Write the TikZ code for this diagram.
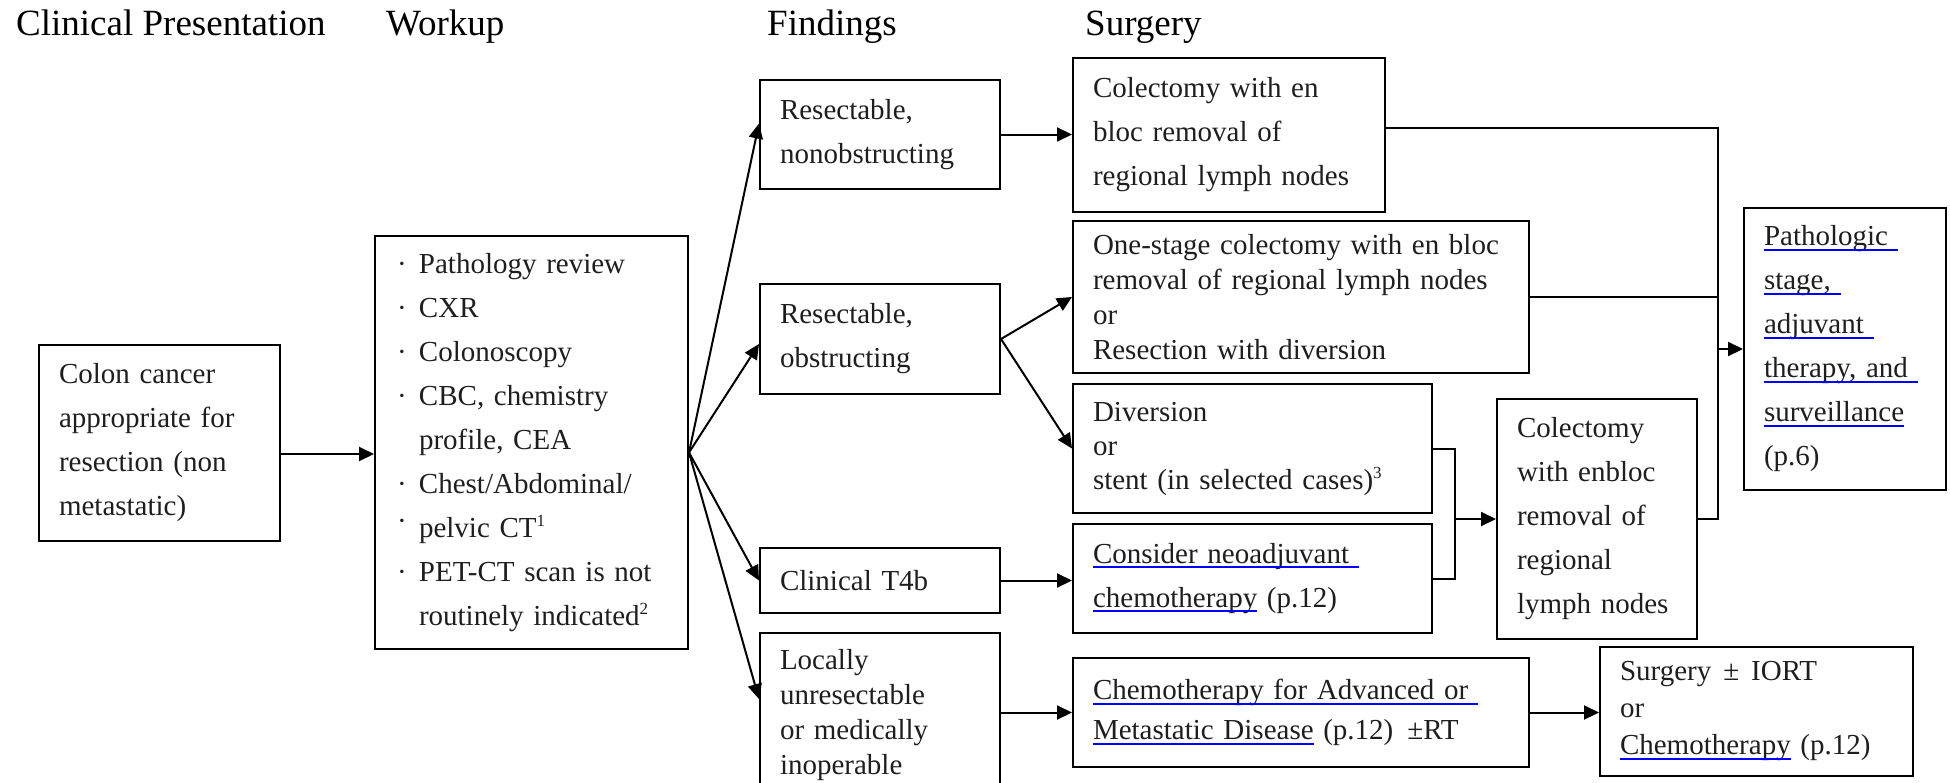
\documentclass[tikz,border=0pt]{standalone}
\usepackage{fontspec}
\setmainfont{Liberation Serif}
\usetikzlibrary{arrows.meta}

\definecolor{linkblue}{RGB}{0,0,255}
\definecolor{inkgray}{RGB}{30,30,30}
\newsavebox\lnkbox
\newcommand\lnk[1]{\sbox\lnkbox{#1}\textcolor{linkblue}{\rlap{\usebox\lnkbox}\rule[-5pt]{\wd\lnkbox}{2pt}}}
\newcommand\wdot{\makebox[22pt][l]{·}}
\newcommand\fnote[1]{\raisebox{11pt}{\fontsize{17}{17}\selectfont #1}}

\tikzset{
  box/.style={draw, line width=2pt, anchor=north west, inner xsep=20pt, inner ysep=0pt,
    align=left, text=inkgray, font=\fontsize{29}{44}\selectfont},
  head/.style={anchor=base west, inner sep=0pt, font=\fontsize{37}{44}\selectfont},
  line/.style={line width=2pt},
  arr/.style={line width=2pt, -{Triangle[length=15pt,width=14pt]}}
}

\begin{document}
\begin{tikzpicture}[x=1pt,y=-1pt]
\useasboundingbox (0,0) rectangle (1950,782);

\node[head] (hclin) at (16,35) {Clinical Presentation};
\node[head] (hwork) at (386,35) {Workup};
\node[head] (hfind) at (767,35) {Findings};
\node[head] (hsurg) at (1085,35) {Surgery};

\node[box, minimum width=241pt, text width=201pt, minimum height=196pt] (colon) at (38,344)
  {Colon cancer\\appropriate for\\resection (non\\metastatic)};

\node[box, inner xsep=22pt, minimum width=313pt, text width=269pt, minimum height=413pt] (workup) at (374,235)
  {\wdot Pathology review\\
   \wdot CXR\\
   \wdot Colonoscopy\\
   \wdot CBC, chemistry\\
   \hspace*{22pt}profile, CEA\\
   \wdot Chest/Abdominal/\\
   \makebox[22pt][l]{\raisebox{7pt}{·}}pelvic CT\fnote{1}\\
   \wdot PET-CT scan is not\\
   \hspace*{22pt}routinely indicated\fnote{2}};

% findings
\node[box, minimum width=240pt, text width=200pt, minimum height=109pt] (resnon) at (759,79)
  {Resectable,\\nonobstructing};
\node[box, minimum width=240pt, text width=200pt, minimum height=110pt] (resobs) at (759,283)
  {Resectable,\\obstructing};
\node[box, minimum width=240pt, text width=200pt, minimum height=65pt] (t4b) at (759,547)
  {Clinical T4b};
\node[box, minimum width=240pt, text width=200pt, minimum height=164pt,
  font=\fontsize{29}{35}\selectfont] (locally) at (759,632)
  {Locally\\unresectable\\or medically\\inoperable};

% surgery
\node[box, minimum width=312pt, text width=272pt, minimum height=154pt] (colect) at (1072,57)
  {Colectomy with en\\bloc removal of\\regional lymph nodes};
\node[box, minimum width=456pt, text width=416pt, minimum height=152pt,
  font=\fontsize{29}{35}\selectfont] (onestage) at (1072,220)
  {One-stage colectomy with en bloc\\removal of regional lymph nodes\\or\\Resection with diversion};
\node[box, minimum width=359pt, text width=319pt, minimum height=129pt,
  font=\fontsize{29}{34}\selectfont] (diversion) at (1072,383)
  {Diversion\\or\\stent (in selected cases)\fnote{3}};
\node[box, minimum width=359pt, text width=319pt, minimum height=109pt] (neoadj) at (1072,523)
  {\lnk{Consider neoadjuvant\ }\\\lnk{chemotherapy} (p.12)};
\node[box, minimum width=456pt, text width=416pt, minimum height=109pt,
  font=\fontsize{29}{40}\selectfont] (chemoadv) at (1072,657)
  {\lnk{Chemotherapy for Advanced or\ }\\\lnk{Metastatic Disease} (p.12)\hspace{14pt}±RT};

\node[box, minimum width=200pt, text width=160pt, minimum height=240pt] (enbloc) at (1496,398)
  {Colectomy\\with enbloc\\removal of\\regional\\lymph nodes};
\node[box, minimum width=202pt, text width=162pt, minimum height=282pt] (patho) at (1743,207)
  {\lnk{Pathologic\ }\\\lnk{stage,\ }\\\lnk{adjuvant\ }\\\lnk{therapy, and\ }\\\lnk{surveillance}\\(p.6)};
\node[box, minimum width=313pt, text width=273pt, minimum height=129pt,
  font=\fontsize{29}{37}\selectfont] (surgiort) at (1599,646)
  {Surgery\hspace{12pt}±\hspace{12pt}IORT\\or\\\lnk{Chemotherapy} (p.12)};

\coordinate (ljoin) at (1455,0);
\coordinate (rjoin) at (1718,0);

\draw[arr] ([yshift=-11pt]colon.east) -- ([yshift=-11pt]colon.east -| workup.west);

\draw[arr] ([yshift=-10pt]workup.east) -- ([yshift=11pt]resnon.west);
\draw[arr] ([yshift=-10pt]workup.east) -- ([yshift=-5pt]resobs.west);
\draw[arr] ([yshift=-10pt]workup.east) -- (t4b.west);
\draw[arr] ([yshift=-10pt]workup.east) -- ([yshift=16pt]locally.west);

\draw[arr] (resnon.east) -- (resnon.east -| colect.west);
\draw[arr] (resobs.east) -- (onestage.west);
\draw[arr] (resobs.east) -- (diversion.west);
\draw[arr] (t4b.east) -- (t4b.east -| neoadj.west);
\draw[arr] (locally.east |- chemoadv.west) -- (chemoadv.west);
\draw[arr] (chemoadv.east) -- (chemoadv.east -| surgiort.west);

\draw[line] (diversion.east) -| (ljoin |- neoadj.east) -- (neoadj.east);
\draw[arr] (ljoin |- enbloc.west) -- (enbloc.west);

\draw[line] ([yshift=7pt]colect.east) -| (rjoin |- enbloc.east) -- (enbloc.east);
\draw[line] (onestage.east) -- (onestage.east -| rjoin);
\draw[arr] (rjoin |- patho.west) -- (patho.west);

\end{tikzpicture}
\end{document}
